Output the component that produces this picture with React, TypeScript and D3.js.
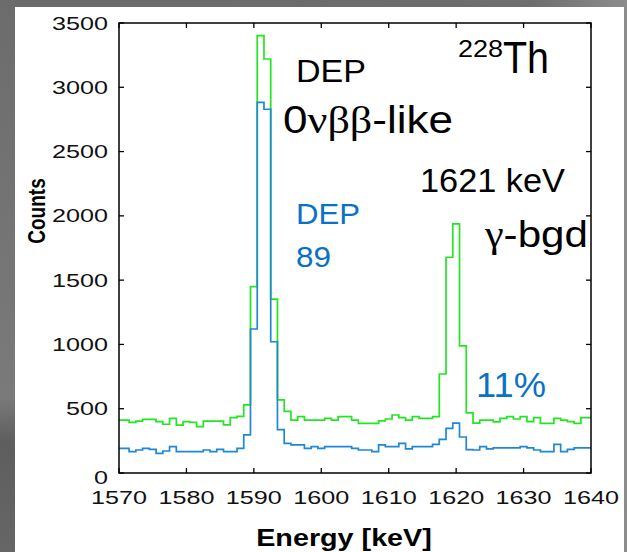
import React from "react";
import * as d3 from "d3";

// Bin centres (keV), 1 keV bins
const energies: number[] = d3.range(1570, 1641);

// Upper (green) spectrum: all events
const greenCounts: number[] = [
  412, 412, 394, 404, 417, 417, 400, 379, 425, 373, // 1570-1579
  399, 394, 360, 404, 404, 404, 375, 430, 440, 530, // 1580-1589
  1449, 3402, 3220, 1353, 568, 480, 412, 438, 412, 412, // 1590-1599
  412, 425, 412, 438, 438, 412, 386, 386, 386, 405, // 1600-1609
  420, 451, 430, 412, 438, 425, 425, 438, 770, 1678, // 1610-1619
  1937, 988, 468, 388, 412, 412, 398, 425, 438, 420, // 1620-1629
  438, 399, 430, 386, 386, 425, 412, 399, 386, 430, // 1630-1639
  430, // 1640
];

// Lower (blue) spectrum: after pulse-shape cut
const blueCounts: number[] = [
  192, 192, 166, 179, 192, 184, 153, 171, 205, 166, // 1570-1579
  166, 166, 166, 179, 166, 184, 166, 166, 192, 296, // 1580-1589
  1120, 2883, 2829, 1021, 337, 231, 218, 218, 192, 205, // 1590-1599
  192, 205, 205, 205, 205, 192, 179, 179, 166, 218, // 1600-1609
  205, 205, 231, 187, 205, 205, 205, 222, 262, 347, // 1610-1619
  388, 280, 182, 179, 205, 187, 196, 196, 196, 196, // 1620-1629
  205, 196, 179, 166, 166, 223, 166, 184, 196, 196, // 1630-1639
  196, // 1640
];

const xTicks: number[] = [1570, 1580, 1590, 1600, 1610, 1620, 1630, 1640];
const yTicks: number[] = [0, 500, 1000, 1500, 2000, 2500, 3000, 3500];

const FONT = "'Liberation Sans', Arial, Helvetica, sans-serif";
const SERIF = "'Liberation Serif', 'Times New Roman', serif";
const GREEN = "#22e622";
const BLUE = "#1f88d2";
const TEXT_BLUE = "#0a72c4";

const W = 627;
const H = 552;
const plot = { left: 119, right: 591, top: 23, bottom: 473 };

export default function App() {
  const x = d3.scaleLinear().domain([1570, 1640]).range([plot.left, plot.right]);
  const y = d3.scaleLinear().domain([0, 3500]).range([plot.bottom, plot.top]);

  const stairPoints = (vals: number[]): [number, number][] => {
    const pts: [number, number][] = [];
    energies.forEach((e, i) => {
      const e0 = Math.max(e - 0.5, 1570);
      const e1 = Math.min(e + 0.5, 1640);
      pts.push([x(e0), y(vals[i])]);
      pts.push([x(e1), y(vals[i])]);
    });
    return pts;
  };
  const line = d3.line<[number, number]>().x((d) => d[0]).y((d) => d[1]);
  const greenPath = line(stairPoints(greenCounts)) || "";
  const bluePath = line(stairPoints(blueCounts)) || "";

  const tickLen = 5;
  const sx = 1.4;

  return (
    <div style={{ position: "fixed", left: 0, top: 0, width: W, height: H }}>
      <svg width={W} height={H} viewBox={`0 0 ${W} ${H}`} style={{ display: "block" }}>
        <defs>
          <linearGradient id="bgGrad" x1="0" y1="0" x2="1" y2="0">
            <stop offset="0" stopColor="#6a6a6a" />
            <stop offset="0.85" stopColor="#6e6e6e" />
            <stop offset="1" stopColor="#8c8c8c" />
          </linearGradient>
          <linearGradient id="leftGrad" x1="0" y1="0" x2="0" y2="1">
            <stop offset="0" stopColor="#6c6c6c" />
            <stop offset="0.72" stopColor="#7a7a7a" />
            <stop offset="0.8" stopColor="#5e5e5e" />
            <stop offset="1" stopColor="#666666" />
          </linearGradient>
        </defs>
        <rect x={0} y={0} width={W} height={H} fill="url(#bgGrad)" />
        <rect x={0} y={0} width={15} height={H} fill="url(#leftGrad)" />
        <rect x={15} y={7} width={609} height={H - 7} fill="#ffffff" />

        {/* spectra */}
        <path d={greenPath} fill="none" stroke={GREEN} strokeWidth={1.7} />
        <path d={bluePath} fill="none" stroke={BLUE} strokeWidth={1.7} />

        {/* axes box */}
        <rect
          x={plot.left}
          y={plot.top}
          width={plot.right - plot.left}
          height={plot.bottom - plot.top}
          fill="none"
          stroke="#000"
          strokeWidth={1.5}
        />
        {xTicks.map((t) => (
          <g key={"xt" + t}>
            <line x1={x(t)} x2={x(t)} y1={plot.bottom} y2={plot.bottom - tickLen} stroke="#000" strokeWidth={1.3} />
            <line x1={x(t)} x2={x(t)} y1={plot.top} y2={plot.top + tickLen} stroke="#000" strokeWidth={1.3} />
            <text
              transform={`translate(${x(t)},${504}) scale(${sx},1)`}
              textAnchor="middle"
              fontFamily={FONT}
              fontSize={18}
              fill="#111"
            >
              {t}
            </text>
          </g>
        ))}
        {yTicks.map((t) => (
          <g key={"yt" + t}>
            <line x1={plot.left} x2={plot.left + tickLen} y1={y(t)} y2={y(t)} stroke="#000" strokeWidth={1.3} />
            <line x1={plot.right} x2={plot.right - tickLen} y1={y(t)} y2={y(t)} stroke="#000" strokeWidth={1.3} />
            <text
              transform={`translate(${108},${y(t) + (t === 0 ? 11 : 6.5)}) scale(${sx},1)`}
              textAnchor="end"
              fontFamily={FONT}
              fontSize={18}
              fill="#111"
            >
              {t}
            </text>
          </g>
        ))}

        {/* axis labels */}
        <text
          transform={`translate(${45},${211}) rotate(-90) scale(1,1.3)`}
          textAnchor="middle"
          fontFamily={FONT}
          fontWeight="bold"
          fontSize={19}
          fill="#000"
        >
          Counts
        </text>
        <text
          transform={`translate(${344},${546}) scale(1.25,1)`}
          textAnchor="middle"
          fontFamily={FONT}
          fontWeight="bold"
          fontSize={23}
          fill="#000"
        >
          Energy [keV]
        </text>

        {/* annotations */}
        <text x={458} y={57} fontFamily={FONT} fontSize={23} textLength={45} lengthAdjust="spacingAndGlyphs" fill="#000">
          228
        </text>
        <text x={503} y={73} fontFamily={FONT} fontSize={45} textLength={46} lengthAdjust="spacingAndGlyphs" fill="#000">
          Th
        </text>
        <text x={296} y={82} fontFamily={FONT} fontSize={32} textLength={70} lengthAdjust="spacingAndGlyphs" fill="#000">
          DEP
        </text>
        <text x={283} y={133} fontSize={38} textLength={170} lengthAdjust="spacingAndGlyphs" fill="#000">
          <tspan fontFamily={FONT}>0</tspan>
          <tspan fontFamily={SERIF}>νββ</tspan>
          <tspan fontFamily={FONT}>-like</tspan>
        </text>
        <text x={420} y={192} fontFamily={FONT} fontSize={33} textLength={145} lengthAdjust="spacingAndGlyphs" fill="#000">
          1621 keV
        </text>
        <text x={485} y={247} fontSize={37} textLength={103} lengthAdjust="spacingAndGlyphs" fill="#000">
          <tspan fontFamily={SERIF}>γ</tspan>
          <tspan fontFamily={FONT}>-bgd</tspan>
        </text>
        <text x={296} y={224} fontFamily={FONT} fontSize={30} textLength={64} lengthAdjust="spacingAndGlyphs" fill={TEXT_BLUE}>
          DEP
        </text>
        <text x={296} y={267} fontFamily={FONT} fontSize={30} textLength={35} lengthAdjust="spacingAndGlyphs" fill={TEXT_BLUE}>
          89
        </text>
        <text x={476} y={397} fontFamily={FONT} fontSize={35} textLength={70} lengthAdjust="spacingAndGlyphs" fill={TEXT_BLUE}>
          11%
        </text>
      </svg>
    </div>
  );
}
